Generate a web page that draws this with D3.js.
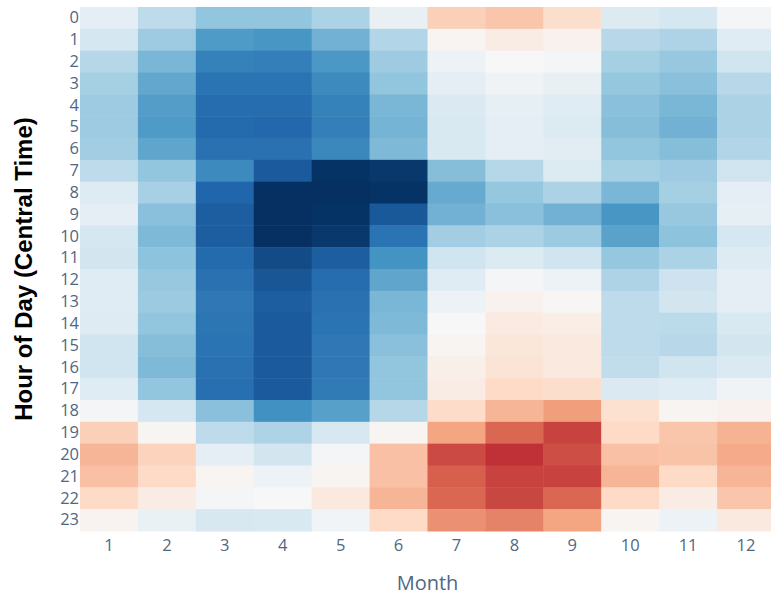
<!DOCTYPE html>
<html>
<head>
<meta charset="utf-8">
<script src="https://cdn.jsdelivr.net/npm/d3@7"></script>
<style>
  body { margin: 0; background: #fff; }
  svg { display: block; }
</style>
</head>
<body>
<div id="chart-container"></div>
<script>
// months along x, hours down y
const months = [1, 2, 3, 4, 5, 6, 7, 8, 9, 10, 11, 12];
const hours = d3.range(0, 24);

// one row per hour (0..23), one value per month
const zValues = [
  [-10, -26, -40, -40, -32, -8, 24, 28, 18, -14, -18, -2],
  [-18, -36, -57, -59, -48, -30, 2, 8, 4, -28, -31, -12],
  [-29, -46, -68, -69, -58, -36, -6, 0, -2, -34, -38, -20],
  [-34, -52, -74, -74, -64, -40, -10, -4, -8, -39, -42, -28],
  [-36, -56, -77, -77, -68, -46, -15, -9, -12, -42, -46, -32],
  [-36, -57, -78, -79, -69, -47, -16, -10, -14, -43, -48, -32],
  [-35, -53, -75, -75, -65, -45, -16, -10, -11, -40, -43, -30],
  [-26, -40, -64, -84, -99, -97, -43, -29, -14, -34, -36, -20],
  [-13, -33, -80, -100, -100, -99, -51, -39, -32, -46, -34, -10],
  [-10, -42, -83, -100, -99, -85, -48, -42, -48, -59, -38, -9],
  [-18, -45, -83, -100, -97, -74, -35, -32, -37, -54, -41, -18],
  [-19, -41, -78, -90, -83, -60, -20, -14, -20, -39, -32, -13],
  [-12, -38, -75, -86, -77, -53, -12, -2, -6, -31, -21, -10],
  [-12, -37, -72, -83, -75, -46, -6, 4, 1, -26, -19, -10],
  [-13, -40, -73, -84, -74, -45, 0, 9, 7, -26, -27, -16],
  [-20, -43, -74, -84, -72, -42, 2, 12, 10, -26, -28, -19],
  [-20, -45, -75, -84, -72, -40, 6, 14, 10, -25, -20, -15],
  [-12, -40, -76, -84, -71, -40, 8, 20, 18, -15, -12, -4],
  [-2, -18, -42, -61, -55, -29, 19, 34, 42, 16, 2, 4],
  [24, 2, -26, -31, -17, 2, 40, 58, 68, 20, 28, 35],
  [34, 23, -10, -19, -2, 30, 66, 73, 65, 30, 29, 38],
  [30, 20, 2, -6, 2, 30, 60, 68, 68, 34, 20, 34],
  [20, 8, -2, 0, 10, 34, 58, 67, 58, 20, 8, 28],
  [3, -7, -17, -16, -3, 20, 46, 50, 40, 2, -6, 10]
];

// RdBu reversed, blue = low, red = high
const rdbuR = [
  "rgb(5,48,97)", "rgb(33,102,172)", "rgb(67,147,195)", "rgb(146,197,222)",
  "rgb(209,229,240)", "rgb(247,247,247)", "rgb(253,219,199)",
  "rgb(244,165,130)", "rgb(214,96,77)", "rgb(178,24,43)", "rgb(103,0,31)"
];

const W = 771;
const H = 595;
const margin = { top: 7, right: -4, bottom: 64, left: 80 };
const width = W - margin.left - margin.right;
const height = H - margin.top - margin.bottom;

const xScale = d3.scaleBand().domain(months).range([0, width]).padding(0);
const yScale = d3.scaleBand().domain(hours).range([0, height]).padding(0);

const color = d3
  .scaleLinear()
  .domain(d3.range(11).map((i) => -100 + i * 20))
  .range(rdbuR)
  .interpolate(d3.interpolateRgb)
  .clamp(true);

const svg = d3
  .select("#chart-container")
  .append("svg")
  .attr("width", W)
  .attr("height", H);

const g = svg
  .append("g")
  .attr("transform", `translate(${margin.left}, ${margin.top})`);

// flatten rows into cells
const cells = [];
zValues.forEach((row, hi) => {
  row.forEach((v, mi) => {
    cells.push({ hour: hours[hi], month: months[mi], value: v });
  });
});

g.selectAll("rect.cell")
  .data(cells)
  .join("rect")
  .attr("class", "cell")
  .attr("x", (d) => xScale(d.month))
  .attr("y", (d) => yScale(d.hour))
  .attr("width", xScale.bandwidth() + 0.5)
  .attr("height", yScale.bandwidth() + 0.5)
  .attr("fill", (d) => color(d.value));

// x-axis
g.append("g")
  .attr("transform", `translate(0, ${height})`)
  .call(d3.axisBottom(xScale).tickSize(0).tickPadding(8))
  .call((a) => a.select(".domain").remove())
  .selectAll(".tick text")
  .style("font-family", "'Open Sans', sans-serif")
  .style("font-size", "16.5px")
  .attr("fill", "#506784");

// y-axis
g.append("g")
  .call(d3.axisLeft(yScale).tickSize(0).tickPadding(1))
  .call((a) => a.select(".domain").remove())
  .selectAll(".tick text")
  .style("font-family", "'Open Sans', sans-serif")
  .style("font-size", "16.5px")
  .attr("fill", "#506784");

// x-axis title
svg
  .append("text")
  .attr("x", margin.left + width / 2)
  .attr("y", 590)
  .style("text-anchor", "middle")
  .style("font-family", "'Open Sans', sans-serif")
  .style("font-size", "20px")
  .style("fill", "#506784")
  .text("Month");

// y-axis title
svg
  .append("text")
  .attr("transform", `translate(32, ${margin.top + height / 2}) rotate(-90)`)
  .style("text-anchor", "middle")
  .style("font-family", "'Liberation Sans', Arial, sans-serif")
  .style("font-weight", "bold")
  .style("font-size", "24px")
  .style("fill", "#000")
  .text("Hour of Day (Central Time)");
</script>
</body>
</html>
